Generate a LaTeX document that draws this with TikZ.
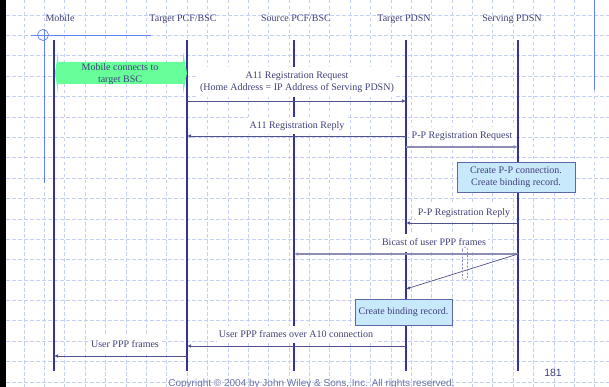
\documentclass[tikz,border=0pt]{standalone}
\usepackage{fontspec}
\setmainfont{Liberation Serif}
\newfontfamily\sansf{Liberation Sans}
\usetikzlibrary{arrows.meta}
\definecolor{navy}{HTML}{333399}
\definecolor{txt}{HTML}{40407A}
\definecolor{gridc}{HTML}{C6D0F4}
\definecolor{guide}{HTML}{6080F4}
\definecolor{arr}{HTML}{50508C}
\definecolor{arrlight}{HTML}{8C8CB4}
\definecolor{boxfill}{HTML}{C8E8FC}
\definecolor{boxdraw}{HTML}{5A68A8}
\definecolor{mint}{HTML}{66FF99}
\definecolor{copyc}{HTML}{6A74A4}
\begin{document}
\begin{tikzpicture}[x=1pt,y=-1pt,
  font=\fontsize{10}{12}\selectfont,
  gridline/.style={draw=gridc, line width=0.6pt, dash pattern=on 3.5pt off 2.5pt},
  life/.style={draw=navy, line width=1.1pt},
  msg/.style={draw=arr, line width=0.7pt, -{Latex[length=4pt,width=3.5pt]}},
  msglight/.style={draw=arrlight, line width=1.1pt, -{Latex[length=4pt,width=3.5pt]}},
  hdr/.style={text=txt, anchor=base, inner sep=0pt},
  lbl/.style={fill=white, text=txt, inner xsep=2pt, inner ysep=4pt, text height=7.5pt, text depth=2pt, anchor=base},
  lbl2/.style={fill=white, text=txt, inner xsep=2pt, inner ysep=5pt, align=center},
  note/.style={draw=boxdraw, fill=boxfill, text=txt, line width=0.8pt, align=center, inner sep=0pt, font=\fontsize{10}{11.5}\selectfont}]
\useasboundingbox (0,0) rectangle (609,387);
\fill[white] (0,0) rectangle (609,387);
% grid
\foreach \i in {0,...,28} \draw[gridline] ({24+20.38*\i},0) -- ({24+20.38*\i},387);
\foreach \j in {0,...,18} \draw[gridline] (6,{15+20.38*\j}) -- (609,{15+20.38*\j});
% left bar
\fill[black] (0,0) rectangle (6,387);
% guides
\draw[guide, line width=0.8pt] (31,35) -- (151,35);
\draw[guide, line width=0.8pt] (44,29) -- (44,183);
\draw[guide, line width=0.7pt] (43,35) circle (5.5);
\draw[guide, line width=1pt] (594,0) -- (594,90);
% headers
\node[hdr] (hM) at (60,22) {Mobile};
\node[hdr] (hT) at (183,22) {Target PCF/BSC};
\node[hdr] (hS) at (296,22) {Source PCF/BSC};
\node[hdr] (hP) at (404,22) {Target PDSN};
\node[hdr] (hV) at (512,22) {Serving PDSN};
% lifeline coordinates
\coordinate (M0) at (54,40);  \coordinate (M1) at (54,371);
\coordinate (T0) at (187,40); \coordinate (T1) at (187,371);
\coordinate (S0) at (294,40); \coordinate (S1) at (294,371);
\coordinate (P0) at (406,40); \coordinate (P1) at (406,371);
\coordinate (V0) at (518,40); \coordinate (V1) at (518,371);
\draw[life] (M0) -- (M1);
\draw[life] (T0) -- (T1);
\draw[life] (S0) -- (S1);
\draw[life] (P0) -- (P1);
\draw[life] (V0) -- (V1);
% green double arrow
\fill[mint] (55,73) -- (58,52) -- (58,62) -- (183,62) -- (183,52) -- (187,73) -- (183,94) -- (183,84) -- (58,84) -- (58,94) -- cycle;
\node[text=txt, align=center, inner sep=0pt] (conn) at (120,74) {Mobile connects to\\target BSC};
% labels
\node[lbl2] (l1) at (297,82) {A11 Registration Request\\(Home Address = IP Address of Serving PDSN)};
\node[lbl] (l2) at (297,128.5) {A11 Registration Reply};
\node[lbl] (l3) at (462,139) {P-P Registration Request};
\node[lbl] (l4) at (464,215.7) {P-P Registration Reply};
\node[lbl] (l5) at (434,245.7) {Bicast of user PPP frames};
\node[lbl] (l6) at (296,337.3) {User PPP frames over A10 connection};
\node[lbl] (l7) at (125,347.7) {User PPP frames};
% notes
\node[note, minimum width=118pt, minimum height=30pt] (n1) at (516,177.5) {Create P-P connection.\\Create binding record.};
\node[note, minimum width=97pt, minimum height=26pt] (n2) at (403.5,312) {Create binding record.};
% message coordinates
\coordinate (a1s) at (187,101); \coordinate (a1e) at (406,101);
\coordinate (a2s) at (406,136); \coordinate (a2e) at (187,136);
\coordinate (a3s) at (406,147); \coordinate (a3e) at (518,147);
\coordinate (a4s) at (518,223); \coordinate (a4e) at (406,223);
\coordinate (a5s) at (518,254); \coordinate (a5e) at (294,254);
\coordinate (a6e) at (406,289);
\coordinate (a7s) at (406,346); \coordinate (a7e) at (187,346);
\coordinate (a8s) at (187,356); \coordinate (a8e) at (54,356);
\draw[msg] (a1s) -- (a1e);
\draw[msg] (a2s) -- (a2e);
\draw[msglight] (a3s) -- (a3e);
\draw[msg] (a4s) -- (a4e);
\draw[msglight] (a5s) -- (a5e);
\draw[msg] (a5s) -- (a6e);
\draw[msg] (a7s) -- (a7e);
\draw[msg] (a8s) -- (a8e);
% break marker
\draw[draw=arrlight, line width=0.6pt, dash pattern=on 2pt off 1.5pt, rounded corners=2.5pt] (462.5,247) rectangle (467.5,280);
% footer
\node[text=copyc, anchor=base, inner sep=0pt, font=\sansf\fontsize{10}{12}\selectfont] (cp) at (311.5,386) {Copyright © 2004 by John Wiley \& Sons, Inc. All rights reserved.};
\node[text=txt, inner sep=0pt, font=\sansf\fontsize{10.5}{12}\selectfont] (pg) at (553,373) {181};
\end{tikzpicture}
\end{document}
